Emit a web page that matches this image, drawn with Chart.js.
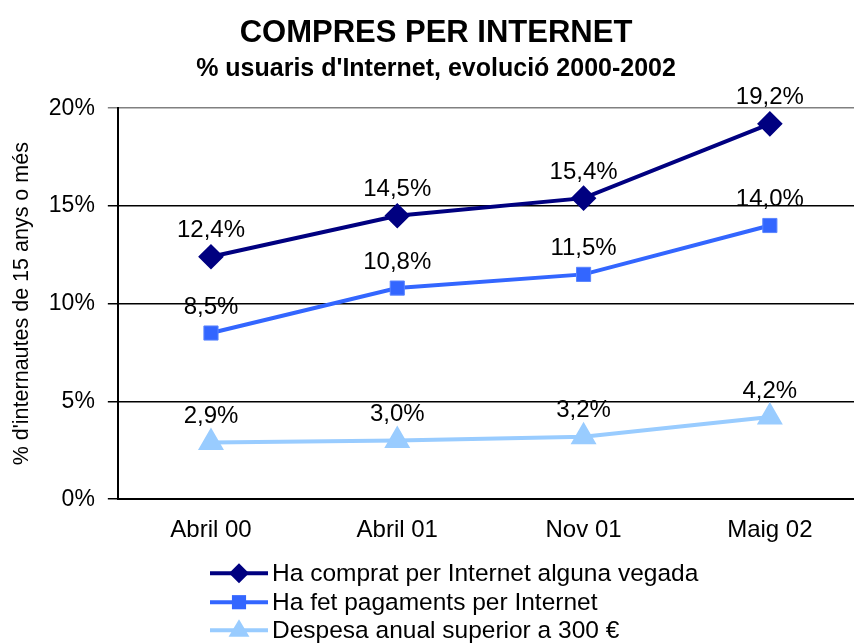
<!DOCTYPE html>
<html>
<head>
<meta charset="utf-8">
<script src="https://cdn.jsdelivr.net/npm/chart.js@4/dist/chart.umd.min.js"></script>
<style>
  html, body { margin: 0; padding: 0; background: #fff; overflow: hidden; }
  canvas { display: block; }
</style>
</head>
<body>
<canvas id="chart" width="866" height="643"></canvas>
<script>
// categories and series values (percent)
const periods = ['Abril 00', 'Abril 01', 'Nov 01', 'Maig 02'];
const everBought = [12.4, 14.5, 15.4, 19.2];
const paidOnline = [8.5, 10.8, 11.5, 14.0];
const over300 = [2.9, 3.0, 3.2, 4.2];
const seriesNames = [
    'Ha comprat per Internet alguna vegada',
    'Ha fet pagaments per Internet',
    'Despesa anual superior a 300 €'
];
const yTicks = [0, 5, 10, 15, 20];

const FONT = '"Liberation Sans", Arial, sans-serif';
const fmt = v => v.toFixed(1).replace('.', ',') + '%';

// value labels above each point
const valueLabels = {
    id: 'valueLabels',
    afterDatasetsDraw(chart) {
        const ctx = chart.ctx;
        ctx.save();
        ctx.font = '24px ' + FONT;
        ctx.fillStyle = '#000';
        ctx.textAlign = 'center';
        ctx.textBaseline = 'middle';
        chart.data.datasets.forEach((ds, i) => {
            chart.getDatasetMeta(i).data.forEach((pt, j) => {
                ctx.fillText(fmt(ds.data[j]), pt.x, pt.y - 26);
            });
        });
        ctx.restore();
    }
};

// stacked legend under the plot, one entry per row
function drawMarker(ctx, style, x, y, r) {
    ctx.beginPath();
    if (style === 'rectRot') {
        ctx.moveTo(x - r, y); ctx.lineTo(x, y - r); ctx.lineTo(x + r, y); ctx.lineTo(x, y + r);
    } else if (style === 'rect') {
        const s = r * Math.SQRT1_2;
        ctx.rect(x - s, y - s, 2 * s, 2 * s);
    } else {
        const half = r * 0.95;
        ctx.moveTo(x, y - r); ctx.lineTo(x + half, y + r * 0.6); ctx.lineTo(x - half, y + r * 0.6);
    }
    ctx.closePath();
    ctx.fill();
}

const stackedLegend = {
    id: 'stackedLegend',
    afterDraw(chart) {
        const ctx = chart.ctx;
        const base = chart.chartArea.bottom;
        const rows = [74, 103, 131];
        ctx.save();
        ctx.font = '24.5px ' + FONT;
        ctx.textBaseline = 'middle';
        ctx.textAlign = 'left';
        chart.data.datasets.forEach((ds, i) => {
            const y = base + rows[i];
            ctx.strokeStyle = ds.borderColor;
            ctx.lineWidth = ds.borderWidth;
            ctx.beginPath();
            ctx.moveTo(210, y);
            ctx.lineTo(268, y);
            ctx.stroke();
            ctx.fillStyle = ds.pointBackgroundColor;
            drawMarker(ctx, ds.pointStyle, 239, y, ds.pointRadius);
            ctx.fillStyle = '#000';
            ctx.fillText(ds.label, 272, y + 1);
        });
        ctx.restore();
    }
};

new Chart(document.getElementById('chart'), {
    type: 'line',
    data: {
        labels: periods,
        datasets: [
            {
                label: seriesNames[0],
                data: everBought,
                borderColor: '#000080',
                backgroundColor: '#000080',
                pointBackgroundColor: '#000080',
                pointBorderColor: '#000080',
                pointStyle: 'rectRot',
                pointRadius: 10,
                borderWidth: 4,
                tension: 0
            },
            {
                label: seriesNames[1],
                data: paidOnline,
                borderColor: '#3366ff',
                backgroundColor: '#3366ff',
                pointBackgroundColor: '#3366ff',
                pointBorderColor: '#5a85ff',
                pointBorderWidth: 1,
                pointStyle: 'rect',
                pointRadius: 10,
                borderWidth: 4,
                tension: 0
            },
            {
                label: seriesNames[2],
                data: over300,
                borderColor: '#99ccff',
                backgroundColor: '#99ccff',
                pointBackgroundColor: '#99ccff',
                pointBorderColor: '#99ccff',
                pointStyle: 'triangle',
                pointRadius: 11,
                borderWidth: 4,
                tension: 0
            }
        ]
    },
    options: {
        responsive: false,
        animation: false,
        // canvas is wider than the window: the plot runs past the right edge, as in the original
        layout: { autoPadding: false, padding: { left: 9, right: 3, top: 0, bottom: 89 } },
        plugins: {
            legend: { display: false },
            tooltip: { enabled: false },
            title: {
                display: true,
                text: 'COMPRES PER INTERNET',
                color: '#000',
                font: { family: FONT, size: 31, weight: 'bold' },
                padding: { top: 15, bottom: 0 }
            },
            subtitle: {
                display: true,
                text: "% usuaris d'Internet, evolució 2000-2002",
                color: '#000',
                font: { family: FONT, size: 25, weight: 'bold' },
                padding: { top: 2, bottom: 24 }
            }
        },
        scales: {
            x: {
                offset: true,
                grid: { display: false },
                border: { display: true, color: '#000', width: 2 },
                ticks: { color: '#000', font: { family: FONT, size: 24 }, padding: 9 }
            },
            y: {
                min: 0,
                max: 20,
                afterBuildTicks: axis => { axis.ticks = yTicks.map(v => ({ value: v })); },
                grid: {
                    color: c => (c.tick && c.tick.value === 20 ? '#808080' : '#000'),
                    lineWidth: 1.5,
                    drawTicks: true,
                    tickLength: 10
                },
                border: { display: true, color: '#000', width: 2 },
                ticks: {
                    color: '#000',
                    padding: 13,
                    font: { family: FONT, size: 23 },
                    callback: v => v + '%'
                },
                title: {
                    display: true,
                    text: "% d'internautes de 15 anys o més",
                    color: '#000',
                    font: { family: FONT, size: 21.5 },
                    padding: { top: 0, bottom: 1 }
                }
            }
        }
    },
    plugins: [valueLabels, stackedLegend]
});
</script>
</body>
</html>
